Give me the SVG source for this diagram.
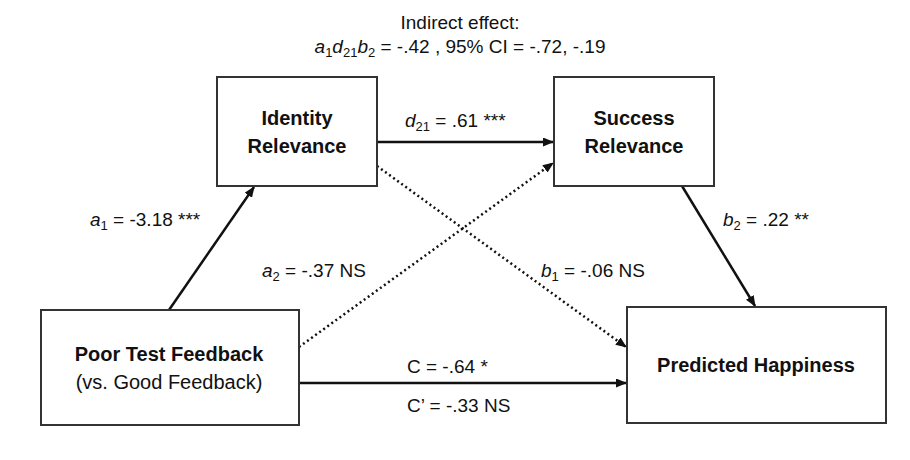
<svg xmlns="http://www.w3.org/2000/svg" width="910" height="460" viewBox="0 0 910 460">
<defs>
<style>
.box{fill:#fff;stroke:#333;stroke-width:2}
.nt{font-family:"Liberation Sans",Arial,sans-serif;font-size:20px;font-weight:bold;fill:#111;text-anchor:middle}
.nr{font-family:"Liberation Sans",Arial,sans-serif;font-size:20px;fill:#111;text-anchor:middle}
.lb{font-family:"Liberation Sans",Arial,sans-serif;font-size:19px;fill:#111}
.it{font-style:italic}
.sub{font-size:13px}
.solid{stroke:#111;stroke-width:2.5;fill:none;marker-end:url(#ah)}
.dot{stroke:#111;stroke-width:2.5;fill:none;stroke-dasharray:2 3;marker-end:url(#ah)}
</style>
<marker id="ah" markerUnits="userSpaceOnUse" markerWidth="11" markerHeight="9" refX="10" refY="4.5" orient="auto">
<path d="M0,0 L11,4.5 L0,9 z" fill="#111"/>
</marker>
</defs>
<rect width="910" height="460" fill="#fff"/>

<g id="title">
<text class="lb" x="460" y="29" text-anchor="middle">Indirect effect:</text>
<text class="lb" x="460" y="53" text-anchor="middle"><tspan class="it">a</tspan><tspan class="sub" dy="4">1</tspan><tspan class="it" dy="-4">d</tspan><tspan class="sub" dy="4">21</tspan><tspan class="it" dy="-4">b</tspan><tspan class="sub" dy="4">2</tspan><tspan dy="-4"> = -.42 , 95% CI = -.72, -.19</tspan></text>
</g>

<g id="connectors">
<line class="solid" x1="169" y1="310" x2="254" y2="187"/>
<line class="solid" x1="377" y1="142" x2="553" y2="142"/>
<line class="solid" x1="682" y1="186" x2="755" y2="306"/>
<line class="solid" x1="299" y1="383" x2="626" y2="383"/>
<line class="dot" x1="299" y1="347" x2="553" y2="163"/>
<line class="dot" x1="377" y1="166" x2="626" y2="347"/>
<text class="lb" x="90" y="226"><tspan class="it">a</tspan><tspan class="sub" dy="4">1</tspan><tspan dy="-4"> = -3.18 ***</tspan></text>
<text class="lb" x="262" y="277"><tspan class="it">a</tspan><tspan class="sub" dy="4">2</tspan><tspan dy="-4"> = -.37 NS</tspan></text>
<text class="lb" x="405" y="127"><tspan class="it">d</tspan><tspan class="sub" dy="4">21</tspan><tspan dy="-4"> = .61 ***</tspan></text>
<text class="lb" x="541" y="277"><tspan class="it">b</tspan><tspan class="sub" dy="4">1</tspan><tspan dy="-4"> = -.06 NS</tspan></text>
<text class="lb" x="723" y="226"><tspan class="it">b</tspan><tspan class="sub" dy="4">2</tspan><tspan dy="-4"> = .22 **</tspan></text>
<text class="lb" x="407" y="373">C = -.64 *</text>
<text class="lb" x="407" y="412">C’ = -.33 NS</text>
</g>

<g id="identity">
<rect class="box" x="217" y="77" width="160" height="109"/>
<text class="nt" x="297" y="125">Identity</text>
<text class="nt" x="297" y="153">Relevance</text>
</g>

<g id="success">
<rect class="box" x="554" y="77" width="160" height="109"/>
<text class="nt" x="634" y="125">Success</text>
<text class="nt" x="634" y="153">Relevance</text>
</g>

<g id="feedback">
<rect class="box" x="41" y="310" width="258" height="115"/>
<text class="nt" x="169" y="361">Poor Test Feedback</text>
<text class="nr" x="169" y="389">(vs. Good Feedback)</text>
</g>

<g id="happiness">
<rect class="box" x="627" y="307" width="259" height="116"/>
<text class="nt" x="756" y="372">Predicted Happiness</text>
</g>
</svg>
